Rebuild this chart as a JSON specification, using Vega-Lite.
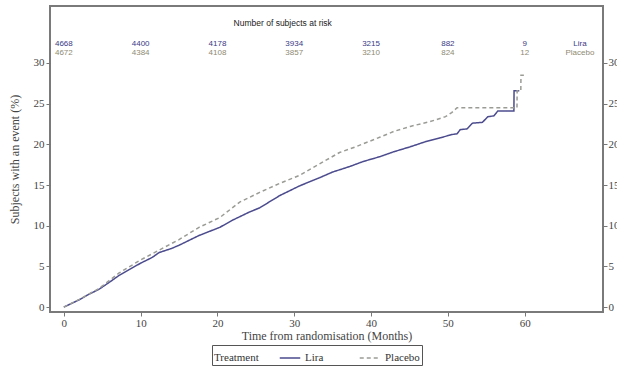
{
  "$schema": "https://vega.github.io/schema/vega-lite/v6.json",
  "width": 553,
  "height": 306,
  "autosize": {"type": "none"},
  "padding": {"left": 50, "top": 6, "right": 14, "bottom": 59},
  "background": "white",
  "config": {
    "view": {"stroke": "#7a7a7a", "strokeWidth": 2},
    "font": "Liberation Serif",
    "axis": {
      "labelFont": "Liberation Serif",
      "titleFont": "Liberation Serif",
      "labelFontSize": 11,
      "titleFontSize": 12,
      "titleFontWeight": "normal",
      "labelColor": "#444",
      "titleColor": "#444",
      "tickColor": "#777",
      "tickSize": 4,
      "domain": false,
      "grid": false
    },
    "legend": {
      "orient": "none", "legendX": 162, "legendY": 339, "direction": "horizontal",
      "titleOrient": "left", "titleAnchor": "end", "titleBaseline": "bottom",
      "titleFont": "Liberation Serif", "titleFontWeight": "normal",
      "titleFontSize": 11, "titleColor": "#333", "titlePadding": 20,
      "labelFont": "Liberation Serif", "labelFontSize": 11, "labelColor": "#333",
      "symbolType": "stroke", "symbolSize": 420, "symbolStrokeWidth": 1.5,
      "strokeColor": "#555", "padding": 2, "columnPadding": 32
    }
  },
  "datasets": {
    "curves": [
      {"group": "Lira", "month": 0, "pct": 0},
      {"group": "Lira", "month": 1, "pct": 0.45},
      {"group": "Lira", "month": 2, "pct": 0.9},
      {"group": "Lira", "month": 3, "pct": 1.45},
      {"group": "Lira", "month": 4.6, "pct": 2.2},
      {"group": "Lira", "month": 6, "pct": 3.1},
      {"group": "Lira", "month": 7.2, "pct": 3.9},
      {"group": "Lira", "month": 8.5, "pct": 4.6},
      {"group": "Lira", "month": 10, "pct": 5.4},
      {"group": "Lira", "month": 11.5, "pct": 6.1},
      {"group": "Lira", "month": 12.4, "pct": 6.7},
      {"group": "Lira", "month": 14, "pct": 7.2},
      {"group": "Lira", "month": 15, "pct": 7.6},
      {"group": "Lira", "month": 17.6, "pct": 8.8},
      {"group": "Lira", "month": 20.3, "pct": 9.8},
      {"group": "Lira", "month": 22, "pct": 10.7},
      {"group": "Lira", "month": 24.2, "pct": 11.7},
      {"group": "Lira", "month": 25.5, "pct": 12.2},
      {"group": "Lira", "month": 28.1, "pct": 13.7},
      {"group": "Lira", "month": 30.7, "pct": 14.9},
      {"group": "Lira", "month": 33.3, "pct": 15.9},
      {"group": "Lira", "month": 35, "pct": 16.6},
      {"group": "Lira", "month": 37.3, "pct": 17.3},
      {"group": "Lira", "month": 39, "pct": 17.9},
      {"group": "Lira", "month": 41.2, "pct": 18.5},
      {"group": "Lira", "month": 43, "pct": 19.1},
      {"group": "Lira", "month": 45.1, "pct": 19.7},
      {"group": "Lira", "month": 47, "pct": 20.3},
      {"group": "Lira", "month": 49, "pct": 20.8},
      {"group": "Lira", "month": 50.5, "pct": 21.2},
      {"group": "Lira", "month": 51.2, "pct": 21.3},
      {"group": "Lira", "month": 51.6, "pct": 21.8},
      {"group": "Lira", "month": 52.5, "pct": 21.9},
      {"group": "Lira", "month": 53.2, "pct": 22.6},
      {"group": "Lira", "month": 54.5, "pct": 22.7},
      {"group": "Lira", "month": 55.2, "pct": 23.4},
      {"group": "Lira", "month": 56, "pct": 23.5},
      {"group": "Lira", "month": 56.5, "pct": 24.1},
      {"group": "Lira", "month": 58.6, "pct": 24.1},
      {"group": "Lira", "month": 58.62, "pct": 26.6},
      {"group": "Lira", "month": 59.3, "pct": 26.6},
      {"group": "Placebo", "month": 0, "pct": 0},
      {"group": "Placebo", "month": 2, "pct": 0.95},
      {"group": "Placebo", "month": 4.6, "pct": 2.3},
      {"group": "Placebo", "month": 7.2, "pct": 4.2},
      {"group": "Placebo", "month": 10, "pct": 5.8},
      {"group": "Placebo", "month": 12.4, "pct": 7.0},
      {"group": "Placebo", "month": 15, "pct": 8.3},
      {"group": "Placebo", "month": 17.6, "pct": 9.8},
      {"group": "Placebo", "month": 20.3, "pct": 11.0},
      {"group": "Placebo", "month": 22.9, "pct": 12.9},
      {"group": "Placebo", "month": 25.5, "pct": 14.1},
      {"group": "Placebo", "month": 28.1, "pct": 15.2},
      {"group": "Placebo", "month": 30.7, "pct": 16.2},
      {"group": "Placebo", "month": 33.3, "pct": 17.6},
      {"group": "Placebo", "month": 35.9, "pct": 19.0},
      {"group": "Placebo", "month": 38, "pct": 19.7},
      {"group": "Placebo", "month": 41.2, "pct": 20.9},
      {"group": "Placebo", "month": 43, "pct": 21.6},
      {"group": "Placebo", "month": 45.1, "pct": 22.2},
      {"group": "Placebo", "month": 47.7, "pct": 22.8},
      {"group": "Placebo", "month": 49.7, "pct": 23.4},
      {"group": "Placebo", "month": 50.5, "pct": 23.9},
      {"group": "Placebo", "month": 51.2, "pct": 24.5},
      {"group": "Placebo", "month": 59.0, "pct": 24.5},
      {"group": "Placebo", "month": 59.02, "pct": 26.6},
      {"group": "Placebo", "month": 59.5, "pct": 26.6},
      {"group": "Placebo", "month": 59.52, "pct": 28.5},
      {"group": "Placebo", "month": 59.9, "pct": 28.5}
    ],
    "risk": [
      {"group": "Lira", "month": 0, "n": 4668},
      {"group": "Lira", "month": 10, "n": 4400},
      {"group": "Lira", "month": 20, "n": 4178},
      {"group": "Lira", "month": 30, "n": 3934},
      {"group": "Lira", "month": 40, "n": 3215},
      {"group": "Lira", "month": 50, "n": 882},
      {"group": "Lira", "month": 60, "n": 9},
      {"group": "Placebo", "month": 0, "n": 4672},
      {"group": "Placebo", "month": 10, "n": 4384},
      {"group": "Placebo", "month": 20, "n": 4108},
      {"group": "Placebo", "month": 30, "n": 3857},
      {"group": "Placebo", "month": 40, "n": 3210},
      {"group": "Placebo", "month": 50, "n": 824},
      {"group": "Placebo", "month": 60, "n": 12}
    ]
  },
  "resolve": {"scale": {"y": "independent"}},
  "layer": [
    {
      "data": {"name": "curves"},
      "mark": {"type": "line", "strokeWidth": 1.5, "interpolate": "linear"},
      "encoding": {
        "x": {
          "field": "month", "type": "quantitative",
          "scale": {"domain": [-1.8, 70.2], "nice": false, "zero": false},
          "axis": {"values": [0, 10, 20, 30, 40, 50, 60], "title": "Time from randomisation (Months)", "labelPadding": 1, "titlePadding": 2}
        },
        "y": {
          "field": "pct", "type": "quantitative",
          "scale": {"domain": [-0.6, 37], "nice": false, "zero": false},
          "axis": {"values": [0, 5, 10, 15, 20, 25, 30], "title": "Subjects with an event (%)", "labelPadding": 2, "titlePadding": 12}
        },
        "color": {
          "field": "group", "type": "nominal",
          "scale": {"domain": ["Lira", "Placebo"], "range": ["#4b4b8e", "#9b9b96"]},
          "legend": {"title": "Treatment"}
        },
        "strokeDash": {
          "field": "group", "type": "nominal",
          "scale": {"domain": ["Lira", "Placebo"], "range": [[1, 0], [4, 3]]},
          "legend": {"title": "Treatment"}
        }
      }
    },
    {
      "data": {"values": [{"label": "Number of subjects at risk"}]},
      "mark": {"type": "text", "font": "Liberation Sans", "fontSize": 8.5, "color": "#222"},
      "encoding": {
        "x": {"datum": 28.5, "type": "quantitative"},
        "y": {
          "datum": 34.9, "type": "quantitative",
          "scale": {"domain": [-0.6, 37], "nice": false, "zero": false},
          "axis": {"orient": "right", "values": [0, 5, 10, 15, 20, 25, 30], "title": null, "labelPadding": 1}
        },
        "text": {"field": "label"}
      }
    },
    {
      "data": {"name": "risk"},
      "transform": [{"filter": "datum.group === 'Lira'"}],
      "mark": {"type": "text", "font": "Liberation Sans", "fontSize": 8, "color": "#3a3a86"},
      "encoding": {
        "x": {"field": "month", "type": "quantitative"},
        "y": {"datum": 32.35, "type": "quantitative", "scale": {"domain": [-0.6, 37], "nice": false, "zero": false}, "axis": null},
        "text": {"field": "n"}
      }
    },
    {
      "data": {"name": "risk"},
      "transform": [{"filter": "datum.group === 'Placebo'"}],
      "mark": {"type": "text", "font": "Liberation Sans", "fontSize": 8, "color": "#8e8a72"},
      "encoding": {
        "x": {"field": "month", "type": "quantitative"},
        "y": {"datum": 31.25, "type": "quantitative", "scale": {"domain": [-0.6, 37], "nice": false, "zero": false}, "axis": null},
        "text": {"field": "n"}
      }
    },
    {
      "data": {"values": [{"group": "Lira"}]},
      "mark": {"type": "text", "font": "Liberation Sans", "fontSize": 8, "color": "#3a3a86"},
      "encoding": {
        "x": {"datum": 67.2, "type": "quantitative"},
        "y": {"datum": 32.35, "type": "quantitative", "scale": {"domain": [-0.6, 37], "nice": false, "zero": false}, "axis": null},
        "text": {"field": "group"}
      }
    },
    {
      "data": {"values": [{"group": "Placebo"}]},
      "mark": {"type": "text", "font": "Liberation Sans", "fontSize": 8, "color": "#8e8a72"},
      "encoding": {
        "x": {"datum": 67.2, "type": "quantitative"},
        "y": {"datum": 31.25, "type": "quantitative", "scale": {"domain": [-0.6, 37], "nice": false, "zero": false}, "axis": null},
        "text": {"field": "group"}
      }
    }
  ]
}
